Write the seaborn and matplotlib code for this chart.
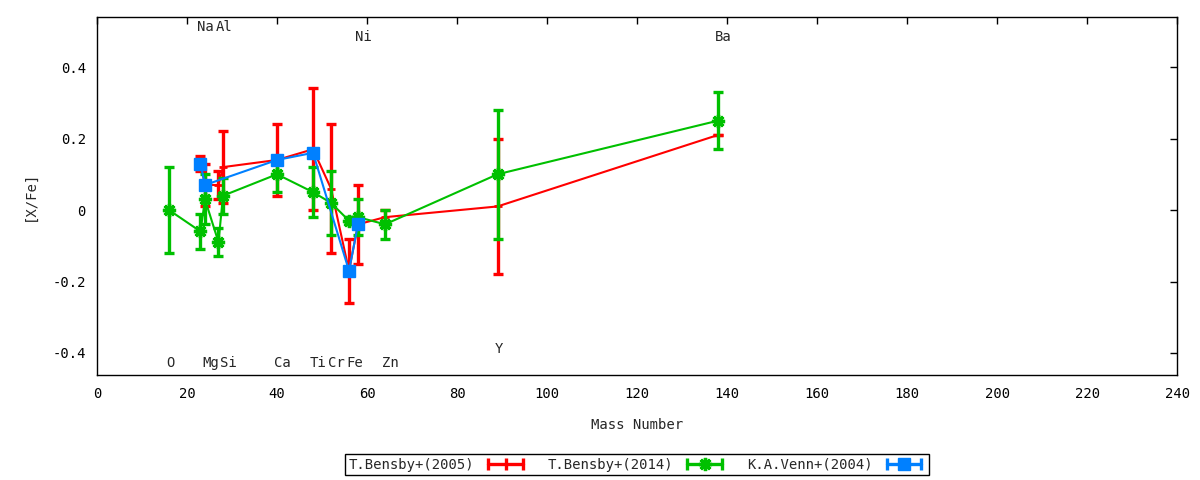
import pandas as pd
import matplotlib.pyplot as plt
import seaborn as sns
from matplotlib.lines import Line2D
from matplotlib.legend_handler import HandlerLine2D

# elements and their mass numbers
elements = ['O', 'Na', 'Mg', 'Al', 'Si', 'Ca', 'Ti', 'Cr', 'Fe', 'Ni', 'Zn', 'Y', 'Ba']
mass_numbers = [16, 23, 24, 27, 28, 40, 48, 52, 56, 58, 64, 89, 138]

# T.Bensby+(2005)
bensby05_el = ['Na', 'Mg', 'Al', 'Si', 'Ca', 'Ti', 'Cr', 'Fe', 'Ni', 'Zn', 'Y', 'Ba']
bensby05_val = [0.13, 0.07, 0.07, 0.12, 0.14, 0.17, 0.06, -0.17, -0.04, -0.02, 0.01, 0.21]
bensby05_err = [0.02, 0.06, 0.04, 0.10, 0.10, 0.17, 0.18, 0.09, 0.11, 0.02, 0.19, 0.00]

# T.Bensby+(2014)
bensby14_el = ['O', 'Na', 'Mg', 'Al', 'Si', 'Ca', 'Ti', 'Cr', 'Fe', 'Ni', 'Zn', 'Y', 'Ba']
bensby14_val = [0.00, -0.06, 0.03, -0.09, 0.04, 0.10, 0.05, 0.02, -0.03, -0.02, -0.04, 0.10, 0.25]
bensby14_err = [0.12, 0.05, 0.07, 0.04, 0.05, 0.05, 0.07, 0.09, 0.01, 0.05, 0.04, 0.18, 0.08]

# K.A.Venn+(2004)
venn04_el = ['Na', 'Mg', 'Ca', 'Ti', 'Fe', 'Ni']
venn04_val = [0.13, 0.07, 0.14, 0.16, -0.17, -0.04]
venn04_err = [0.0, 0.0, 0.0, 0.0, 0.0, 0.0]

y_ticks = [-0.4, -0.2, 0.0, 0.2, 0.4]
y_tick_labels = ['-0.4', '-0.2', '0', '0.2', '0.4']
x_ticks = list(range(0, 241, 20))

# where the element names sit (layout only)
label_height = {'Na': 0.512, 'Al': 0.512, 'Ni': 0.484, 'Ba': 0.484, 'Y': -0.389}
default_label_height = -0.428

sns.set_style('white')
plt.rcParams['font.family'] = ['DejaVu Sans Mono', 'DejaVu Sans']
plt.rcParams['font.size'] = 10

fig, ax = plt.subplots(figsize=(12, 4.8), dpi=100)
fig.subplots_adjust(left=0.0808, right=0.981, top=0.9646, bottom=0.2188)

mass_of = dict(zip(elements, mass_numbers))

series = [
    ('T.Bensby+(2005)', bensby05_el, bensby05_val, bensby05_err, '#ff0000', '+', 6, 2),
    ('T.Bensby+(2014)', bensby14_el, bensby14_val, bensby14_err, '#00c000', (8, 2, 0), 9.5, 2.4),
    ('K.A.Venn+(2004)', venn04_el, venn04_val, venn04_err, '#0080ff', 's', 8.5, 1),
]

handles = []
handler_map = {}
for z, (name, els, vals, errs, color, mk, ms, mew) in enumerate(series):
    df = pd.DataFrame({'mass': [mass_of[e] for e in els], 'value': vals, 'err': errs})
    sns.lineplot(data=df, x='mass', y='value', color=color, linewidth=1.5,
                 marker=mk, markersize=ms, markeredgewidth=mew,
                 markeredgecolor=color, markerfacecolor=color,
                 estimator=None, legend=False, ax=ax, zorder=3 + z)
    ax.errorbar(df['mass'], df['value'], yerr=df['err'], fmt='none',
                ecolor=color, elinewidth=2.4, capsize=3.5, capthick=2.4,
                zorder=3 + z)

    caps = Line2D([], [], color=color, lw=2.4, marker='|', markersize=8,
                  markeredgewidth=2.4)
    mid_marker = '|' if mk == '+' else mk
    mid = Line2D([], [], color=color, ls='none', marker=mid_marker,
                 markersize=ms if mk != '+' else 8,
                 markeredgewidth=2.4 if mk != 's' else 1)
    handler_map[caps] = HandlerLine2D(numpoints=2)
    handler_map[mid] = HandlerLine2D(numpoints=1)
    handles.append(((caps, mid), name))

for el, m in zip(elements, mass_numbers):
    ax.annotate(el, (m, label_height.get(el, default_label_height)),
                xytext=(-2.2, 0), textcoords='offset points',
                ha='left', va='center', fontsize=10)

ax.set_xlim(0, 240)
ax.set_ylim(-0.4615, 0.54)
ax.set_xticks(x_ticks)
ax.set_yticks(y_ticks)
ax.set_yticklabels(y_tick_labels)
ax.tick_params(direction='in', top=True, right=True, length=5, width=1,
               colors='black', labelsize=10)
ax.tick_params(axis='x', pad=9)
ax.tick_params(axis='y', pad=8)
for s in ax.spines.values():
    s.set_color('black')
    s.set_linewidth(1)

ax.set_xlabel('Mass Number', fontsize=10, labelpad=12)
ax.set_ylabel('[X/Fe]', fontsize=10, labelpad=11)

leg = ax.legend([h for h, _ in handles], [n for _, n in handles],
                handler_map=handler_map, loc='center', bbox_to_anchor=(0.5, -0.251),
                ncol=3, markerfirst=False, frameon=True, fancybox=False,
                edgecolor='black', framealpha=1, handlelength=3.1,
                handletextpad=0.7, columnspacing=1.5, borderpad=0.25,
                fontsize=10)
leg.get_frame().set_linewidth(1)

plt.savefig('out.png', dpi=100)
